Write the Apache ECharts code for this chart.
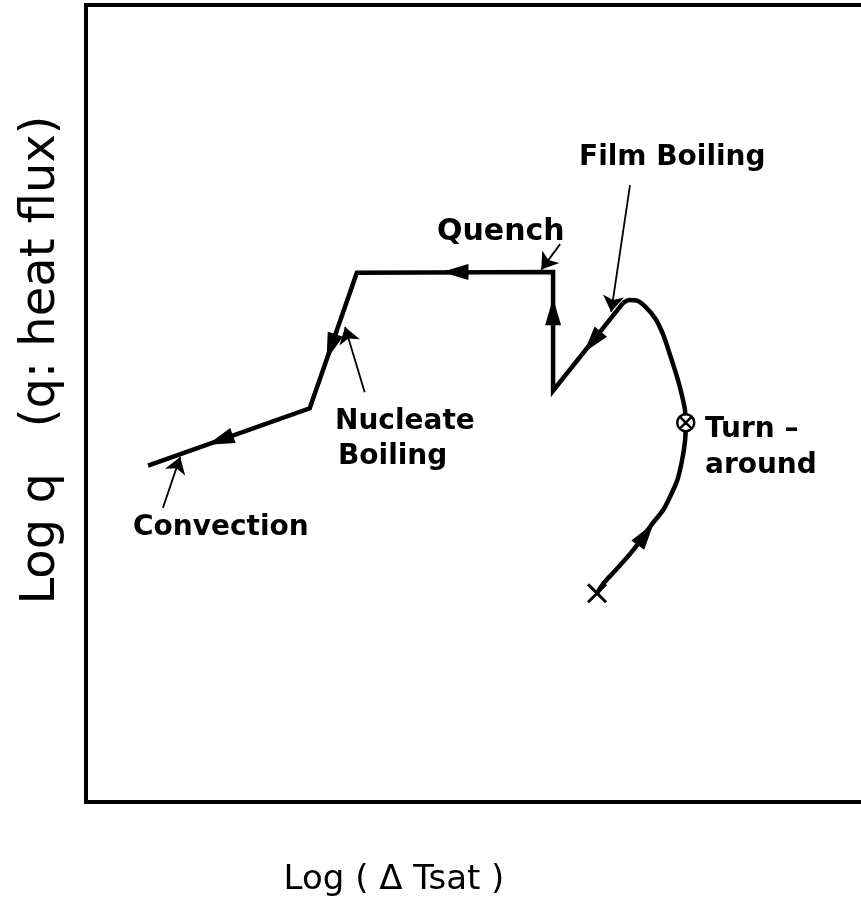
<!DOCTYPE html>
<html>
<head>
<meta charset="utf-8">
<script src="https://cdn.jsdelivr.net/npm/echarts@6/dist/echarts.min.js"></script>
<style>html,body{margin:0;padding:0;background:#fff}#c{width:861px;height:911px}</style>
</head>
<body>
<div id="c"></div>
<script>
// Axis ranges (arbitrary log units, no ticks in the original)
const xRange = [0, 100];
const yRange = [0, 100];

// Heating curve: from start (x) through turnaround up to the film-boiling peak (smooth)
const curveX = [65.1, 65.9, 67.1, 68.4, 69.7, 70.9, 72.2, 73.5, 74.4, 75.3, 75.9, 76.3, 76.4, 76.3, 75.9, 75.3, 74.4, 73.5, 72.5, 71.3, 70.2, 69.2, 68.4];
const curveY = [26.2, 27.4, 28.7, 30.1, 31.6, 33.2, 35.0, 36.6, 38.3, 40.3, 42.7, 45.2, 47.6, 49.2, 51.1, 53.3, 56.1, 58.7, 60.7, 62.1, 62.9, 63.0, 62.6];

// Cooling path: film boiling -> quench -> nucleate boiling -> convection (straight segments)
const pathX = [68.4, 59.5, 59.5, 34.5, 28.5, 7.9];
const pathY = [62.6, 51.6, 66.5, 66.4, 49.4, 42.2];

// Direction arrowheads on the curve (position + heading in degrees)
const arrowX = [71.3, 64.5, 59.5, 47.0, 31.2, 17.1];
const arrowY = [33.6, 57.7, 61.5, 66.5, 57.1, 45.4];
const arrowRot = [-36, 141, 0, 90, 161, 110];

// Special points
const startPoint = [65.1, 26.2];
const turnPoint = [76.4, 47.6];

// Annotation pointer lines
const pointerNames = ['Quench', 'Film Boiling', 'Nucleate Boiling', 'Convection'];
const pointerFrom = [[60.4, 70.0], [69.3, 77.4], [35.5, 51.4], [9.8, 36.9]];
const pointerTo   = [[58.0, 66.8], [66.9, 61.5], [33.0, 59.6], [12.0, 43.3]];

// Texts
const xTitle = 'Log ( Δ Tsat )';
const yTitle = 'Log q   (q: heat flux)';

const zip = (a, b) => a.map((v, i) => [v, b[i]]);
const FONT = "'DejaVu Sans', sans-serif";
const LBL = 'bold 28px ' + FONT;

const chart = echarts.init(document.getElementById('c'), null, {renderer: 'canvas'});
chart.setOption({
  animation: false,
  backgroundColor: '#fff',
  grid: {left: 86, top: 5, width: 785, height: 797, outerBoundsMode: 'none', containLabel: false,
         show: true, borderColor: '#000', borderWidth: 4, backgroundColor: 'transparent'},
  xAxis: {type: 'value', min: xRange[0], max: xRange[1], axisLine: {show: false}, axisTick: {show: false}, axisLabel: {show: false}, splitLine: {show: false}},
  yAxis: {type: 'value', min: yRange[0], max: yRange[1], axisLine: {show: false}, axisTick: {show: false}, axisLabel: {show: false}, splitLine: {show: false}},
  series: [
    {type: 'line', data: zip(curveX, curveY), smooth: 0.3, showSymbol: false, lineStyle: {color: '#000', width: 4.5}, z: 2},
    {type: 'line', data: zip(pathX, pathY), smooth: false, showSymbol: false, lineStyle: {color: '#000', width: 4.5, join: 'miter'}, z: 2},
    {type: 'scatter', data: arrowX.map((x, i) => ({value: [x, arrowY[i]], symbolRotate: arrowRot[i]})),
     symbol: 'triangle', symbolSize: [16, 27], itemStyle: {color: '#000', opacity: 1}, z: 3},
    {type: 'scatter', data: [startPoint], symbol: 'path://M0,0L10,10M10,0L0,10', symbolSize: 18,
     itemStyle: {color: 'none', borderColor: '#000', borderWidth: 3, opacity: 1}, z: 4},
    {type: 'scatter', data: [turnPoint],
     symbol: 'path://M10,0A10,10,0,1,1,10,20A10,10,0,1,1,10,0Z M3,3L17,17M17,3L3,17', symbolSize: 17,
     itemStyle: {color: '#fff', borderColor: '#000', borderWidth: 2.5, opacity: 1}, z: 4},
    {type: 'lines', coordinateSystem: 'cartesian2d', polyline: false,
     data: pointerFrom.map((f, i) => ({name: pointerNames[i], coords: [f, pointerTo[i]]})),
     symbol: ['none', 'arrow'], symbolSize: [9, 16],
     lineStyle: {color: '#000', width: 1.8, opacity: 1, curveness: 0}, z: 3}
  ],
  graphic: [
    {type: 'text', x: 437, y: 232, style: {text: 'Quench', font: 'bold 30px ' + FONT, fill: '#000', textVerticalAlign: 'middle'}},
    {type: 'text', x: 579, y: 158, style: {text: 'Film Boiling', font: LBL, fill: '#000', textVerticalAlign: 'middle'}},
    {type: 'text', x: 335, y: 422, style: {text: 'Nucleate', font: LBL, fill: '#000', textVerticalAlign: 'middle'}},
    {type: 'text', x: 338, y: 457, style: {text: 'Boiling', font: LBL, fill: '#000', textVerticalAlign: 'middle'}},
    {type: 'text', x: 133, y: 528, style: {text: 'Convection', font: LBL, fill: '#000', textVerticalAlign: 'middle'}},
    {type: 'text', x: 705, y: 430, style: {text: 'Turn –', font: LBL, fill: '#000', textVerticalAlign: 'middle'}},
    {type: 'text', x: 705, y: 466, style: {text: 'around', font: LBL, fill: '#000', textVerticalAlign: 'middle'}},
    {type: 'text', x: 394, y: 880, style: {text: xTitle, font: '34px ' + FONT, fill: '#000', textAlign: 'center', textVerticalAlign: 'middle'}},
    {type: 'text', x: 42, y: 360, rotation: Math.PI / 2, style: {text: yTitle, font: '48px ' + FONT, fill: '#000', textAlign: 'center', textVerticalAlign: 'middle'}}
  ]
});
</script>
</body>
</html>
